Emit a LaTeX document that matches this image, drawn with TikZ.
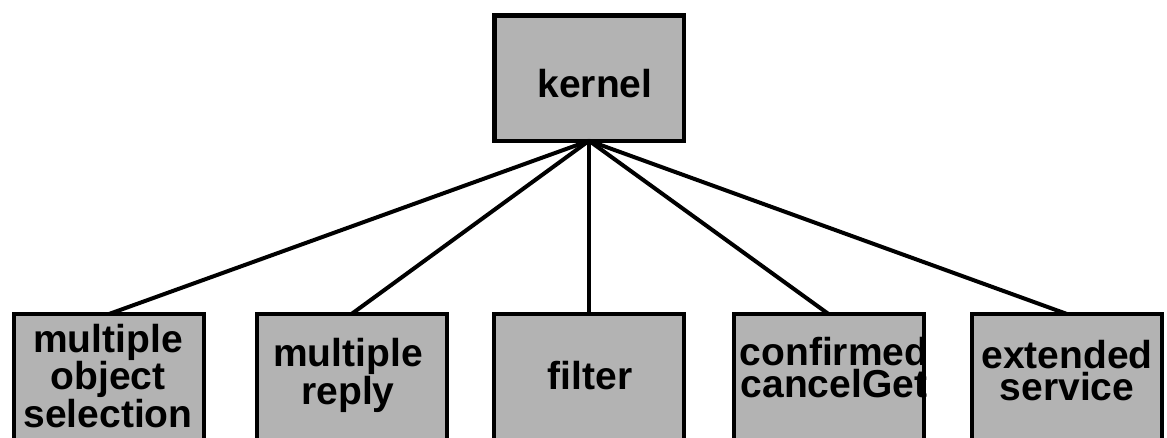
\documentclass[tikz,border=0pt]{standalone}
\usepackage{fontspec}
\setmainfont{Liberation Sans}
\definecolor{boxgray}{RGB}{179,179,179}
\begin{document}
\begin{tikzpicture}[x=1pt,y=-1pt,
  box/.style={draw=black, fill=boxgray, line width=4pt, inner sep=0pt, outer sep=0pt,
              minimum width=190pt, minimum height=140pt, anchor=north},
  topbox/.style={box, line width=4.5pt, minimum width=189.5pt, minimum height=125.5pt, anchor=center},
  lbl/.style={font=\fontsize{39}{#1}\selectfont\bfseries, align=center, inner sep=0pt, anchor=base},
  lbl/.default=32,
  link/.style={line width=4pt}]
  \path[use as bounding box, clip] (0,0) rectangle (1167,437);

  % module boxes
  \node[topbox] (kernel) at (589,78) {};
  \node[box] (mos)  at (109,314) {};
  \node[box] (mrep) at (351.5,314) {};
  \node[box] (filt) at (589,314) {};
  \node[box] (ccg)  at (828.5,314) {};
  \node[box] (ext)  at (1067,314) {};

  % connectors from the kernel to each extension
  \foreach \m in {mos,mrep,filt,ccg,ext}
    \draw[link] (kernel.south) -- (\m.north);

  % labels, placed by the baseline of their last line
  \node[lbl] (tkernel) at (595,97) {kernel};
  \node[lbl=36] (tmos)  at (108,427) {multiple\\object\\selection};
  \node[lbl=30] (tmrep) at (348,404) {multiple\\reply};
  \node[lbl] (tfilt) at (590,389) {filter};
  \node[lbl] (tccg)  at (834,397) {confirmed\\cancelGet};
  \node[lbl] (text)  at (1067,400) {extended\\service};
\end{tikzpicture}
\end{document}
